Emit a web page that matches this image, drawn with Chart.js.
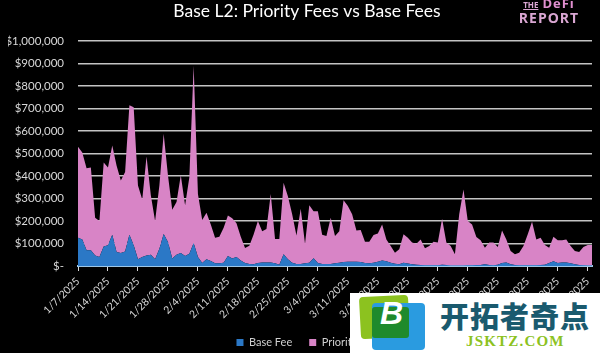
<!DOCTYPE html>
<html>
<head>
<meta charset="utf-8">
<script src="https://cdn.jsdelivr.net/npm/chart.js@4/dist/chart.umd.min.js"></script>
<style>
    html, body { margin: 0; padding: 0; background: #000; }
    #wrap { position: relative; width: 600px; height: 353px; overflow: hidden; }
    .logo { position: absolute; left: 518px; top: -3px; width: 62px; color: #d9a6d2; font: bold 13px/13px "Open Sans"; text-align: center; }
    .logo .the { font-size: 8px; text-decoration: underline; margin-right: 4px; }
    .logo .defi { color: #e08fd0; letter-spacing: 1px; }
    .logo .rep { font-size: 14px; letter-spacing: 1px; }
    #stamp { position: absolute; left: 350px; top: 293px; width: 250px; height: 60px; background: #fff; overflow: hidden; }
    #stamp .green { position: absolute; left: 10px; top: 3px; width: 49px; height: 42px; background: #8cc21f; border-radius: 4px; transform: rotate(-3deg); }
    #stamp .blue { position: absolute; left: 22px; top: 10px; width: 53px; height: 47px; background: #2a9be0; border-radius: 4px; }
    #stamp .mix { position: absolute; left: 22px; top: 14px; width: 37px; height: 31px; background: #1f8a2c; border-radius: 3px; }
    #stamp .b { position: absolute; left: 30px; top: 4px; color: #fff; font: italic bold 32px/32px "Liberation Sans"; }
    #stamp .cn { position: absolute; left: 90px; top: 6px; color: #1a5a6e; font: 900 29px/32px "Noto Sans CJK SC"; letter-spacing: 1px; white-space: nowrap; }
    #stamp .en { position: absolute; left: 116px; top: 40px; color: #8cc21f; font: bold 15px/16px "Liberation Serif"; letter-spacing: 1.2px; }
</style>
</head>
<body>
<div id="wrap">
    <canvas id="feesChart" width="600" height="353"></canvas>
    <div class="logo"><span class="the">THE</span><span class="defi">DeFi</span><br><span class="rep">REPORT</span></div>
    <div id="stamp">
        <div class="green"></div><div class="blue"></div><div class="mix"></div><div class="b">B</div>
        <div class="cn">开拓者奇点</div>
        <div class="en">JSKTZ.COM</div>
    </div>
</div>
<script>
// Daily fees in thousands of dollars, first day is 1/7/2025
const baseFee = [
    126, 118, 70, 70, 47, 40, 87, 92, 139, 62, 58, 65, 139, 92, 30, 40, 47, 50, 30, 77,
    142, 107, 33, 50, 58, 44, 55, 102, 40, 13, 30, 22, 12, 12, 15, 44, 33, 40, 25, 13,
    9, 8, 13, 16, 16, 16, 12, 6, 52, 30, 15, 9, 9, 12, 15, 34, 13, 9, 9, 9,
    12, 15, 18, 19, 19, 19, 18, 13, 12, 14, 19, 25, 21, 15, 10, 8, 14, 11, 8, 6,
    5, 3, 3, 3, 3, 6, 4, 2, 2, 2, 2, 3, 3, 4, 5, 8, 5, 3, 6, 13,
    16, 8, 4, 3, 3, 3, 3, 3, 4, 6, 13, 21, 13, 16, 16, 12, 8, 4, 3, 2, 2
];
const priorityFee = [
    404, 386, 365, 368, 168, 160, 373, 346, 397, 385, 322, 353, 575, 614, 328, 256, 440, 264, 170, 281,
    446, 296, 217, 234, 345, 226, 340, 788, 280, 192, 207, 163, 114, 118, 155, 181, 179, 150, 105, 67,
    81, 132, 187, 139, 149, 304, 108, 114, 318, 280, 215, 127, 246, 87, 255, 209, 230, 130, 124, 206,
    121, 140, 274, 248, 211, 139, 142, 95, 96, 124, 126, 160, 97, 74, 49, 66, 127, 115, 96, 93,
    113, 76, 86, 105, 101, 204, 100, 87, 50, 228, 338, 197, 182, 125, 109, 73, 99, 101, 79, 145,
    102, 59, 48, 56, 86, 138, 194, 115, 122, 87, 68, 109, 101, 98, 102, 77, 59, 58, 81, 91, 91
];

// One label per day
const dates = [];
for (let i = 0; i < baseFee.length; i++) {
    const d = new Date(2025, 0, 7 + i);
    dates.push((d.getMonth() + 1) + '/' + d.getDate() + '/' + d.getFullYear());
}

const font = 'Lato';

// Title and legend sit a little right of the canvas centre in the original
const nudgeBlocks = {
    id: 'nudgeBlocks',
    afterLayout(chart) {
        [chart.titleBlock, chart.legend].forEach(block => {
            block.left += 7;
            block.right += 7;
        });
    }
};

new Chart(document.getElementById('feesChart').getContext('2d'), {
    type: 'line',
    data: {
        labels: dates,
        datasets: [
            { label: 'Base Fee', data: baseFee, fill: 'origin', backgroundColor: '#2b78c6', borderWidth: 0, pointRadius: 0 },
            { label: 'Priority Fee', data: priorityFee, fill: '-1', backgroundColor: '#d884c6', borderWidth: 0, pointRadius: 0 }
        ]
    },
    plugins: [nudgeBlocks],
    options: {
        responsive: false,
        animation: false,
        layout: { padding: { left: 8, right: 8, top: 0, bottom: -5 } },
        plugins: {
            title: {
                display: true,
                text: 'Base L2: Priority Fees vs Base Fees',
                color: '#fff',
                font: { family: font, size: 17.5, weight: 'normal' },
                padding: { top: 1, bottom: 19 }
            },
            legend: {
                position: 'bottom',
                labels: {
                    color: '#d0d0d0',
                    font: { family: font, size: 11 },
                    boxWidth: 7,
                    boxHeight: 7,
                    padding: 17
                }
            },
            tooltip: { enabled: false }
        },
        scales: {
            x: {
                offset: false,
                afterFit: scale => {
                    scale.height = 54;
                    scale.paddingRight = 0;
                },
                grid: {
                    drawOnChartArea: false,
                    tickLength: 5,
                    tickColor: ctx => ctx.index % 7 === 0 ? '#d8d8d8' : 'transparent'
                },
                border: { color: '#9cc6e6', width: 2 },
                ticks: {
                    autoSkip: false,
                    minRotation: 45,
                    maxRotation: 45,
                    padding: 4,
                    color: '#d8d8d8',
                    font: { family: font, size: 10.5 },
                    callback: function(value, index) {
                        return index % 7 === 0 ? this.getLabelForValue(value) : '';
                    }
                }
            },
            y: {
                stacked: true,
                min: 0,
                max: 1000,
                afterFit: scale => { scale.width = 70; },
                grid: { color: '#c4c4c4', lineWidth: 1.5, drawTicks: false },
                border: { display: false },
                ticks: {
                    stepSize: 100,
                    padding: 14,
                    color: '#d8d8d8',
                    font: { family: font, size: 11.5 },
                    callback: value => value === 0 ? '$-' : '$' + (value * 1000).toLocaleString('en-US')
                }
            }
        }
    }
});
</script>
</body>
</html>
